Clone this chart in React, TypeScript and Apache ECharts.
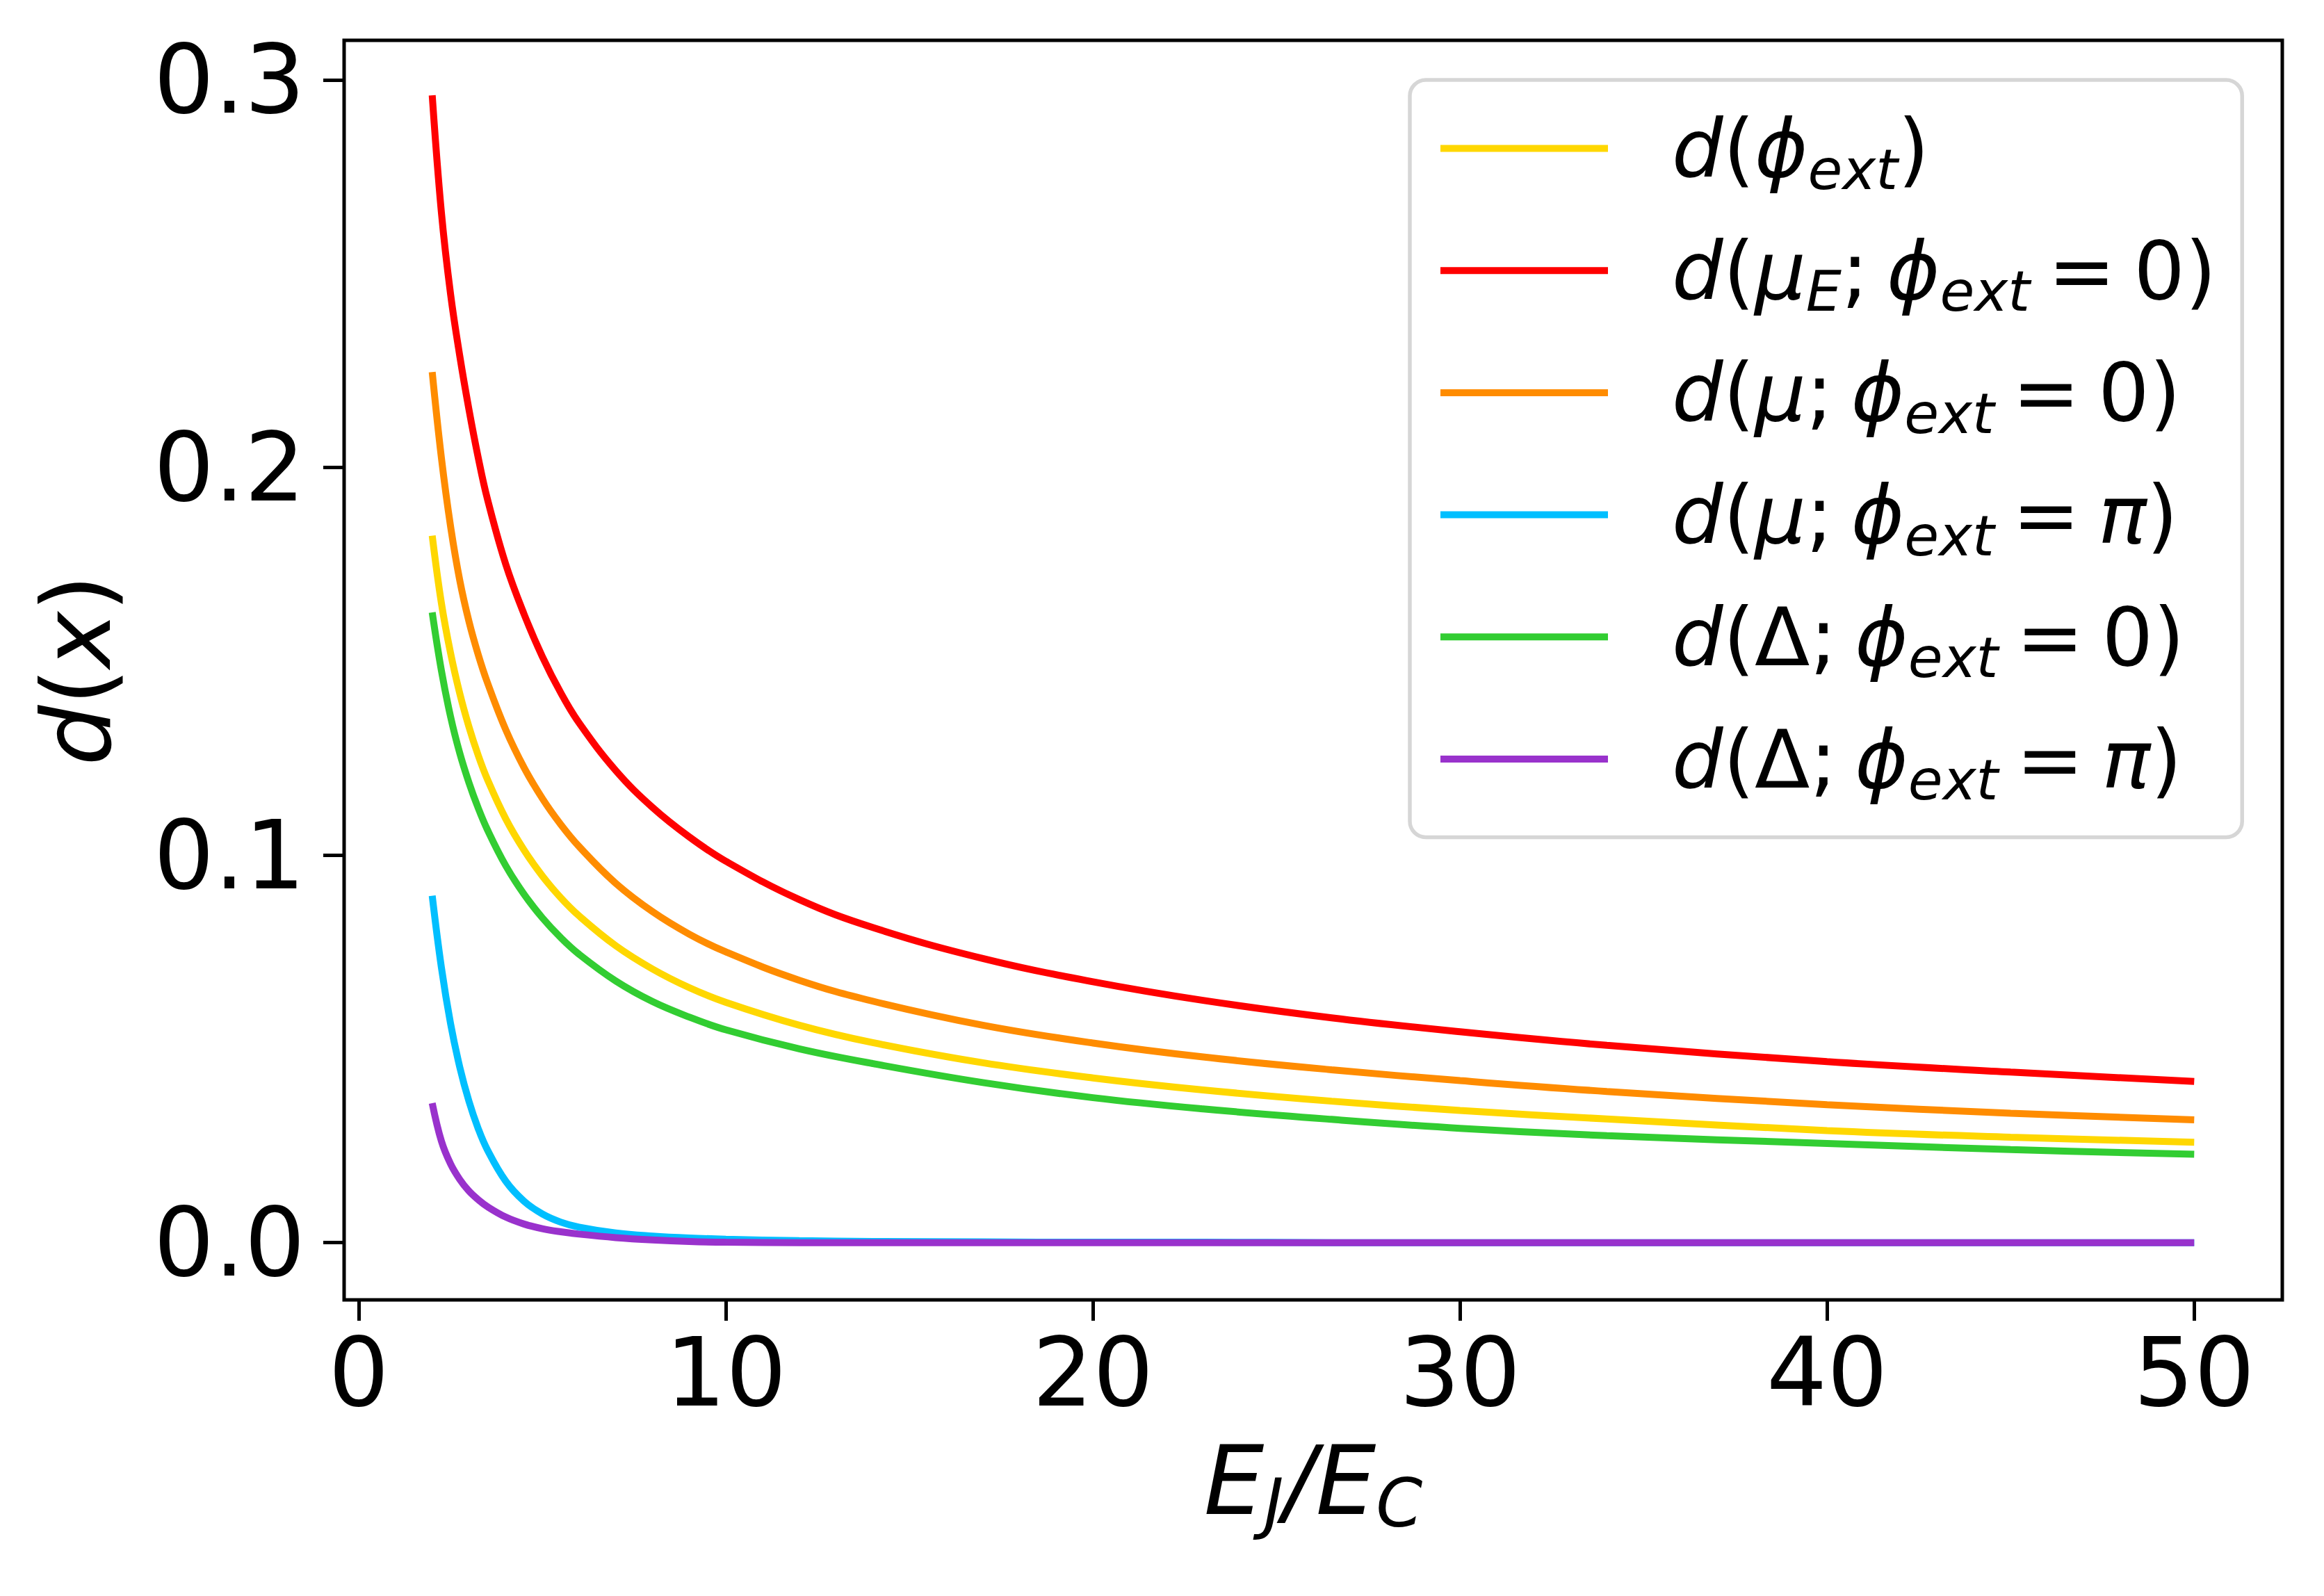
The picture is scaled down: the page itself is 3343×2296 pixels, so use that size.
import React, { useEffect, useRef } from "react";
import * as echarts from "echarts";

const FONT = "DejaVu Sans";

// x values: E_J / E_C
const ejEc = [2, 2.25, 2.5, 2.75, 3, 3.25, 3.5, 4, 4.5, 5, 5.5, 6, 7, 8, 9, 10, 12, 14, 17, 20, 23, 26.5, 30, 34, 40, 45, 50];

// d(phi_ext)  (gold)
const dPhiExt = [0.1824, 0.165, 0.1521, 0.1417, 0.1331, 0.1258, 0.1196, 0.1094, 0.1013, 0.0946, 0.089, 0.0843, 0.0766, 0.0706, 0.0658, 0.062, 0.0561, 0.0516, 0.0464, 0.0425, 0.0394, 0.0365, 0.0341, 0.0319, 0.0289, 0.0272, 0.0259];
// d(mu_E; phi_ext = 0)  (red)
const dMuE0 = [0.296, 0.2658, 0.2447, 0.2288, 0.215, 0.2027, 0.192, 0.1751, 0.1622, 0.1512, 0.1419, 0.1341, 0.1218, 0.1123, 0.1047, 0.0984, 0.0885, 0.0813, 0.0733, 0.0673, 0.0625, 0.058, 0.0544, 0.0509, 0.0467, 0.044, 0.0416];
// d(mu; phi_ext = 0)  (orange)
const dMu0 = [0.2246, 0.2025, 0.1848, 0.1709, 0.1603, 0.1518, 0.1446, 0.1324, 0.1226, 0.1146, 0.1079, 0.1022, 0.0927, 0.0854, 0.0796, 0.075, 0.0677, 0.0623, 0.0561, 0.0515, 0.0479, 0.0446, 0.0418, 0.039, 0.0356, 0.0334, 0.0317];
// d(mu; phi_ext = pi)  (sky blue)
const dMuPi = [0.0895, 0.071, 0.0565, 0.0453, 0.0365, 0.0295, 0.024, 0.0159, 0.0107, 0.0074, 0.0053, 0.004, 0.0025, 0.0017, 0.0012, 0.0009, 0.0005, 0.0003, 0.0002, 0.0001, 0.0001, 0, 0, 0, 0, 0, 0];
// d(Delta; phi_ext = 0)  (green)
const dDelta0 = [0.1626, 0.1476, 0.1357, 0.1263, 0.1187, 0.1122, 0.1066, 0.0973, 0.0899, 0.0838, 0.0787, 0.0744, 0.0675, 0.0622, 0.0582, 0.0549, 0.05, 0.0462, 0.0413, 0.0374, 0.0345, 0.0318, 0.0295, 0.0276, 0.0256, 0.024, 0.0228];
// d(Delta; phi_ext = pi)  (purple)
const dDeltaPi = [0.036, 0.0262, 0.0203, 0.0163, 0.0133, 0.0111, 0.0093, 0.0066, 0.0048, 0.0036, 0.0028, 0.0022, 0.0013, 0.0007, 0.0003, 0.0001, 0, 0, 0, 0, 0, 0, 0, 0, 0, 0, 0];

const xTicks = [0, 10, 20, 30, 40, 50];
const yTicks = [0, 0.1, 0.2, 0.3];

const seriesNames = [
  "d(ϕext)",
  "d(μE; ϕext = 0)",
  "d(μ; ϕext = 0)",
  "d(μ; ϕext = π)",
  "d(Δ; ϕext = 0)",
  "d(Δ; ϕext = π)",
];
const seriesValues = [dPhiExt, dMuE0, dMu0, dMuPi, dDelta0, dDeltaPi];
const seriesColors = ["#FFD700", "#FF0000", "#FF8C00", "#00BFFF", "#32CD32", "#9932CC"];

const legendLabels: Record<string, string> = {
  "d(ϕext)": "{i|d}{r|(}{i|ϕ}{s|ext}{r|)}",
  "d(μE; ϕext = 0)": "{i|d}{r|(}{i|μ}{s|E}{semi|;}{i|ϕ}{s|ext}{eq|=}{r|0)}",
  "d(μ; ϕext = 0)": "{i|d}{r|(}{i|μ}{semi|;}{i|ϕ}{s|ext}{eq|=}{r|0)}",
  "d(μ; ϕext = π)": "{i|d}{r|(}{i|μ}{semi|;}{i|ϕ}{s|ext}{eq|=}{i|π}{r|)}",
  "d(Δ; ϕext = 0)": "{i|d}{r|(}{r|Δ}{semi|;}{i|ϕ}{s|ext}{eq|=}{r|0)}",
  "d(Δ; ϕext = π)": "{i|d}{r|(}{r|Δ}{semi|;}{i|ϕ}{s|ext}{eq|=}{i|π}{r|)}",
};

const LFS = 116;
const LLH = 130;
const legendRich = {
  i: { fontFamily: FONT, fontStyle: "italic", fontSize: LFS, lineHeight: LLH, color: "#000" },
  r: { fontFamily: FONT, fontSize: LFS, lineHeight: LLH, color: "#000" },
  semi: { fontFamily: FONT, fontSize: LFS, lineHeight: LLH, color: "#000", padding: [0, 26, 0, 0] },
  eq: { fontFamily: FONT, fontSize: LFS, lineHeight: LLH, color: "#000", padding: [0, 26, 0, 26] },
  s: { fontFamily: FONT, fontStyle: "italic", fontSize: 81, lineHeight: LLH, color: "#000", padding: [60, 0, 0, 0] },
};

const AFS = 137;
const axisNameRich = {
  i: { fontFamily: FONT, fontStyle: "italic", fontSize: AFS, lineHeight: 160, color: "#000" },
  r: { fontFamily: FONT, fontSize: AFS, lineHeight: 160, color: "#000" },
  s: { fontFamily: FONT, fontStyle: "italic", fontSize: 96, lineHeight: 160, color: "#000", padding: [66, 0, 0, 0] },
};

export default function App() {
  const ref = useRef<HTMLDivElement>(null);
  useEffect(() => {
    document.body.style.margin = "0";
    const chart = echarts.init(ref.current!, null, { renderer: "svg" });
    const option: any = {
      animation: false,
      backgroundColor: "#ffffff",
      grid: {
        left: 495,
        right: 60,
        top: 58,
        bottom: 426,
        show: true,
        borderColor: "#000",
        borderWidth: 5,
        backgroundColor: "transparent",
        containLabel: false,
        outerBoundsMode: "none",
      },
      xAxis: {
        type: "value",
        min: -0.4,
        max: 52.4,
        axisLine: { show: false, onZero: false },
        axisTick: { show: true, length: 30, inside: false, lineStyle: { color: "#000", width: 5 }, customValues: xTicks },
        axisLabel: {
          customValues: xTicks,
          fontSize: AFS,
          fontFamily: FONT,
          color: "#000",
          margin: 36,
          formatter: (v: number) => String(Math.round(v)),
        },
        splitLine: { show: false },
        name: "{i|E}{s|J}{i|/E}{s|C}",
        nameLocation: "middle",
        nameGap: 180,
        nameTextStyle: { rich: axisNameRich },
      },
      yAxis: {
        type: "value",
        min: -0.01477,
        max: 0.3102,
        axisLine: { show: false, onZero: false },
        axisTick: { show: true, length: 30, inside: false, lineStyle: { color: "#000", width: 5 }, customValues: yTicks },
        axisLabel: {
          customValues: yTicks,
          fontSize: AFS,
          fontFamily: FONT,
          color: "#000",
          margin: 56,
          formatter: (v: number) => v.toFixed(1),
        },
        splitLine: { show: false },
        name: "{i|d}{r|(}{i|x}{r|)}",
        nameLocation: "middle",
        nameGap: 305,
        nameTextStyle: { rich: axisNameRich },
      },
      legend: {
        orient: "vertical",
        left: 2028,
        top: 115,
        icon: "rect",
        itemWidth: 241,
        itemHeight: 10,
        itemGap: 34.7,
        padding: [28, 37, 42, 44],
        backgroundColor: "rgba(255,255,255,0.8)",
        borderColor: "#d6d6d6",
        borderWidth: 5.5,
        borderRadius: 23,
        data: seriesNames,
        formatter: (name: string) => legendLabels[name],
        textStyle: { rich: legendRich, padding: [0, 0, 0, 87], fontFamily: FONT, fontSize: LFS },
      },
      series: seriesNames.map((name, k) => ({
        name,
        type: "line",
        data: ejEc.map((x, j) => [x, seriesValues[k][j]]),
        showSymbol: false,
        symbol: "none",
        smooth: 0.4,
        color: seriesColors[k],
        lineStyle: { color: seriesColors[k], width: 10, cap: "butt" },
        itemStyle: { color: seriesColors[k] },
        z: 2 + k,
      })),
    };
    chart.setOption(option);
    return () => chart.dispose();
  }, []);
  return <div ref={ref} style={{ width: 3343, height: 2296 }} />;
}
